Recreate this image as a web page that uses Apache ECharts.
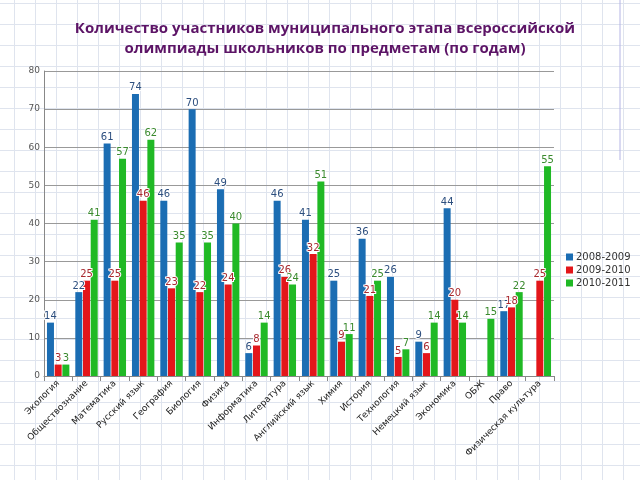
<!DOCTYPE html>
<html>
<head>
<meta charset="utf-8">
<script src="https://cdn.jsdelivr.net/npm/echarts@6/dist/echarts.min.js"></script>
<style>
html, body { margin: 0; padding: 0; }
body {
    width: 640px; height: 480px;
    background-color: #fff;
    background-image:
        linear-gradient(to right, #dfe4ee 1px, transparent 1px),
        linear-gradient(to bottom, #dfe4ee 1px, transparent 1px);
    background-size: 21px 21px;
    background-position: 14px 3px;
}
#chart { width: 640px; height: 480px; }
</style>
</head>
<body>
<div id="chart"></div>
<script>
// предметы
const subjects = ['Экология', 'Обществознание', 'Математика', 'Русский язык', 'География', 'Биология',
    'Физика', 'Информатика', 'Литература', 'Английский язык', 'Химия', 'История', 'Технология',
    'Немецкий язык', 'Экономика', 'ОБЖ', 'Право', 'Физическая культура']
const y2008 = [14, 22, 61, 74, 46, 70, 49, 6, 46, 41, 25, 36, 26, 9, 44, null, 17, null]
const y2009 = [3, 25, 25, 46, 23, 22, 24, 8, 26, 32, 9, 21, 5, 6, 20, null, 18, 25]
const y2010 = [3, 41, 57, 62, 35, 35, 40, 14, 24, 51, 11, 25, 7, 14, 14, 15, 22, 55]

const myChart = echarts.init(document.getElementById('chart'))

function barSeries(name, data, color, labelColor) {
    return {
        name: name,
        type: 'bar',
        data: data,
        barWidth: 7,
        barGap: '10%',
        itemStyle: { color: color },
        label: {
            show: true,
            position: 'top',
            distance: 1,
            color: labelColor,
            fontSize: 10,
            fontFamily: 'DejaVu Sans',
            textBorderColor: '#fff',
            textBorderWidth: 2
        }
    }
}

const option = {
    animation: false,
    title: {
        text: 'Количество участников муниципального этапа всероссийской\nолимпиады школьников по предметам (по годам)',
        left: 320,
        top: 14,
        textAlign: 'center',
        textStyle: {
            color: '#5c1466',
            fontSize: 15,
            fontWeight: 'bold',
            fontFamily: 'Open Sans',
            lineHeight: 20
        }
    },
    graphic: [{
        type: 'line',
        shape: { x1: 620, y1: 0, x2: 620, y2: 160 },
        style: { stroke: '#b4b4e4', lineWidth: 1 }
    }],
    legend: {
        orient: 'vertical',
        left: 561,
        top: 247,
        itemWidth: 7,
        itemHeight: 7,
        itemGap: 3,
        icon: 'rect',
        textStyle: { color: '#333', fontSize: 10, fontFamily: 'DejaVu Sans', padding: [0, 0, 0, -2] }
    },
    grid: { left: 44, right: 86, top: 71, bottom: 104 },
    xAxis: {
        type: 'category',
        data: subjects,
        axisLine: { lineStyle: { color: '#888' } },
        axisTick: { show: true, lineStyle: { color: '#888' } },
        axisLabel: {
            interval: 0,
            rotate: 45,
            fontSize: 9,
            color: '#222',
            fontFamily: 'DejaVu Sans',
            margin: 6
        }
    },
    yAxis: {
        type: 'value',
        min: 0,
        max: 80,
        interval: 10,
        axisLine: { show: true, lineStyle: { color: '#888' } },
        axisTick: { show: false },
        splitLine: { lineStyle: { color: '#999' } },
        axisLabel: { fontSize: 9, color: '#555', fontFamily: 'DejaVu Sans', margin: 4 }
    },
    series: [
        barSeries('2008-2009', y2008, '#1b6db3', '#2d4f7f'),
        barSeries('2009-2010', y2009, '#e3161a', '#a82a30'),
        barSeries('2010-2011', y2010, '#20b925', '#3a8a2e')
    ]
}
myChart.setOption(option)
</script>
</body>
</html>
